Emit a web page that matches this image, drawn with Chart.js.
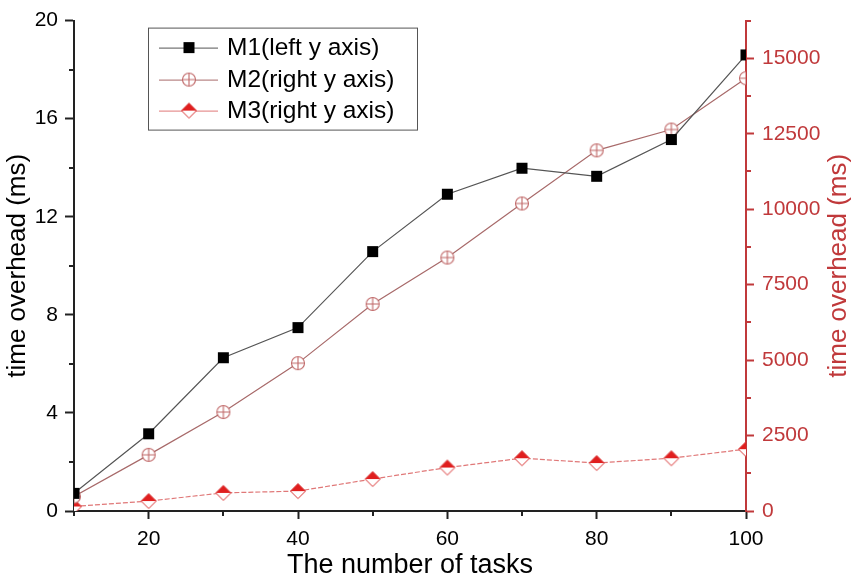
<!DOCTYPE html>
<html>
<head>
<meta charset="utf-8">
<script src="https://cdn.jsdelivr.net/npm/chart.js@4.4.0/dist/chart.umd.min.js"></script>
<style>
  html, body { margin: 0; padding: 0; background: #fff; }
  #wrap { width: 854px; height: 582px; position: relative; }
</style>
</head>
<body>
<div id="wrap"><canvas id="overheadChart"></canvas></div>
<script>
// values
const tasks = [10, 20, 30, 40, 50, 60, 70, 80, 90, 100];
const m1Left = [0.72, 3.15, 6.25, 7.48, 10.58, 12.92, 13.98, 13.65, 15.15, 18.6];
const m2Right = [480, 1860, 3280, 4900, 6860, 8400, 10190, 11950, 12640, 14340];
const m3Right = [150, 330, 600, 660, 1060, 1440, 1750, 1590, 1750, 2050];
const seriesNames = ['M1(left y axis)', 'M2(right y axis)', 'M3(right y axis)'];
const axisTitle = 'time overhead (ms)';

const RED = '#c0393b';
const FONT = "'Liberation Sans', Arial, sans-serif";

function makeCircleCross(r) {
  const c = document.createElement('canvas');
  const s = Math.ceil(r * 2 + 3);
  c.width = s; c.height = s;
  const g = c.getContext('2d');
  const m = s / 2;
  g.strokeStyle = '#c06868';
  g.lineWidth = 1.1;
  g.fillStyle = '#fff';
  g.beginPath();
  g.arc(m, m, r, 0, Math.PI * 2);
  g.fill();
  g.stroke();
  g.beginPath();
  g.moveTo(m - r, m); g.lineTo(m + r, m);
  g.moveTo(m, m - r); g.lineTo(m, m + r);
  g.stroke();
  return c;
}

function makeHalfDiamond(r) {
  const c = document.createElement('canvas');
  const s = Math.ceil(r * 2 + 3);
  c.width = s; c.height = s;
  const g = c.getContext('2d');
  const m = s / 2;
  g.fillStyle = '#fff';
  g.beginPath();
  g.moveTo(m, m - r); g.lineTo(m + r, m); g.lineTo(m, m + r); g.lineTo(m - r, m); g.closePath();
  g.fill();
  g.fillStyle = '#e01e1e';
  g.beginPath();
  g.moveTo(m, m - r); g.lineTo(m + r, m); g.lineTo(m - r, m); g.closePath();
  g.fill();
  g.strokeStyle = '#d83030';
  g.lineWidth = 1;
  g.beginPath();
  g.moveTo(m, m - r); g.lineTo(m + r, m); g.lineTo(m, m + r); g.lineTo(m - r, m); g.closePath();
  g.stroke();
  return c;
}

function makeSquare(r) {
  const c = document.createElement('canvas');
  const s = Math.ceil(r * 2 + 2);
  c.width = s; c.height = s;
  const g = c.getContext('2d');
  g.fillStyle = '#000';
  g.fillRect(s / 2 - r, s / 2 - r, r * 2, r * 2);
  return c;
}

const circleCross = makeCircleCross(6.5);
const halfDiamond = makeHalfDiamond(7.5);
const squareMark = makeSquare(5.5);

const lineColors = ['#555555', '#a86a6a', '#e07878'];
const markers = [squareMark, circleCross, halfDiamond];

// legend drawn inside the plot, Origin style
const boxLegend = {
  id: 'boxLegend',
  afterDraw(chart) {
    const ctx = chart.ctx;
    const a = chart.chartArea;
    const x0 = a.left + 74, y0 = a.top + 7, w = 269, h = 102;
    ctx.save();
    ctx.fillStyle = '#fff';
    ctx.fillRect(x0, y0, w, h);
    ctx.strokeStyle = '#555';
    ctx.lineWidth = 1;
    ctx.strokeRect(x0 + 0.5, y0 + 0.5, w, h);
    const rows = [y0 + 20, y0 + 52, y0 + 83];
    seriesNames.forEach((name, i) => {
      const y = rows[i];
      ctx.strokeStyle = lineColors[i];
      ctx.lineWidth = 1;
      ctx.beginPath();
      ctx.moveTo(x0 + 11, y + 0.5);
      ctx.lineTo(x0 + 70, y + 0.5);
      ctx.stroke();
      const mk = markers[i];
      ctx.drawImage(mk, x0 + 41 - mk.width / 2, y - mk.height / 2);
      ctx.fillStyle = '#000';
      ctx.font = '24.5px ' + FONT;
      ctx.textBaseline = 'middle';
      ctx.textAlign = 'left';
      ctx.fillText(name, x0 + 79, y + 1);
    });
    ctx.restore();
  }
};

// shorter minor ticks and the right title read bottom-to-top
const axisExtras = {
  id: 'axisExtras',
  afterDraw(chart) {
    const ctx = chart.ctx;
    const a = chart.chartArea;
    const minor = 5;
    ctx.save();
    ctx.lineWidth = 2;
    const xs = chart.scales.x;
    ctx.strokeStyle = '#222';
    xs.ticks.forEach(t => {
      if (t.value % 20 === 0) return;
      const px = Math.round(xs.getPixelForValue(t.value));
      ctx.beginPath(); ctx.moveTo(px, a.bottom); ctx.lineTo(px, a.bottom + minor); ctx.stroke();
    });
    const yl = chart.scales.yLeft;
    yl.ticks.forEach(t => {
      if (t.value % 4 === 0) return;
      const py = Math.round(yl.getPixelForValue(t.value));
      ctx.beginPath(); ctx.moveTo(a.left, py); ctx.lineTo(a.left - minor, py); ctx.stroke();
    });
    const yr = chart.scales.yRight;
    ctx.strokeStyle = RED;
    yr.ticks.forEach(t => {
      if (t.value % 2500 === 0) return;
      const py = Math.round(yr.getPixelForValue(t.value));
      ctx.beginPath(); ctx.moveTo(a.right, py); ctx.lineTo(a.right + minor, py); ctx.stroke();
    });
    ctx.translate(chart.width - 15, (a.top + a.bottom) / 2);
    ctx.rotate(-Math.PI / 2);
    ctx.fillStyle = RED;
    ctx.font = '26px ' + FONT;
    ctx.textAlign = 'center';
    ctx.textBaseline = 'middle';
    ctx.fillText(axisTitle, 0, 0);
    ctx.restore();
  }
};

const ctx = document.getElementById('overheadChart').getContext('2d');
const overheadChart = new Chart(ctx, {
  type: 'line',
  data: {
    labels: tasks,
    datasets: [{
      label: seriesNames[0],
      data: tasks.map((t, i) => ({ x: t, y: m1Left[i] })),
      yAxisID: 'yLeft',
      borderColor: lineColors[0],
      borderWidth: 1.2,
      pointStyle: squareMark,
      pointRadius: 6,
      order: 1
    }, {
      label: seriesNames[1],
      data: tasks.map((t, i) => ({ x: t, y: m2Right[i] })),
      yAxisID: 'yRight',
      borderColor: lineColors[1],
      borderWidth: 1.2,
      pointStyle: circleCross,
      pointRadius: 7,
      order: 2
    }, {
      label: seriesNames[2],
      data: tasks.map((t, i) => ({ x: t, y: m3Right[i] })),
      yAxisID: 'yRight',
      borderColor: lineColors[2],
      borderWidth: 1.2,
      borderDash: [5, 2],
      pointStyle: halfDiamond,
      pointRadius: 8,
      order: 3
    }]
  },
  options: {
    responsive: true,
    maintainAspectRatio: false,
    animation: false,
    layout: { padding: { top: 17, left: 0, right: 0, bottom: 0 } },
    plugins: {
      legend: { display: false },
      tooltip: { enabled: false }
    },
    scales: {
      x: {
        type: 'linear',
        min: 10,
        max: 100,
        afterFit(scale) { scale.height = 71; },
        ticks: {
          stepSize: 10,
          color: '#000',
          font: { family: FONT, size: 21 },
          padding: 8,
          maxRotation: 0,
          callback: v => (v % 20 === 0 ? v : '')
        },
        grid: {
          drawOnChartArea: false, tickLength: 8, tickWidth: 2,
          tickColor: c => (c.tick && c.tick.value % 20 === 0 ? '#222' : 'transparent')
        },
        border: { color: '#222', width: 2 },
        title: {
          display: true,
          text: 'The number of tasks',
          color: '#000',
          font: { family: FONT, size: 27 },
          padding: { top: 0, bottom: 0 }
        }
      },
      yLeft: {
        type: 'linear',
        position: 'left',
        min: 0,
        max: 20,
        afterFit(scale) { scale.width = 74; },
        ticks: {
          stepSize: 2,
          color: '#000',
          font: { family: FONT, size: 21 },
          padding: 7,
          callback: v => (v % 4 === 0 ? v : '')
        },
        grid: {
          drawOnChartArea: false, tickLength: 9, tickWidth: 2,
          tickColor: c => (c.tick && c.tick.value % 4 === 0 ? '#222' : 'transparent')
        },
        border: { color: '#222', width: 2 },
        title: {
          display: true,
          text: axisTitle,
          color: '#000',
          font: { family: FONT, size: 26 },
          padding: { top: 2, bottom: 0 }
        }
      },
      yRight: {
        type: 'linear',
        position: 'right',
        min: 0,
        max: 16250,
        afterFit(scale) { scale.width = 108; },
        ticks: {
          stepSize: 1250,
          color: RED,
          font: { family: FONT, size: 21 },
          padding: 8,
          callback: v => (v % 2500 === 0 ? v : '')
        },
        grid: {
          drawOnChartArea: false, tickLength: 8, tickWidth: 2,
          tickColor: c => (c.tick && c.tick.value % 2500 === 0 ? RED : 'transparent')
        },
        border: { color: RED, width: 2 },
        title: { display: false }
      }
    }
  },
  plugins: [boxLegend, axisExtras]
});
</script>
</body>
</html>
